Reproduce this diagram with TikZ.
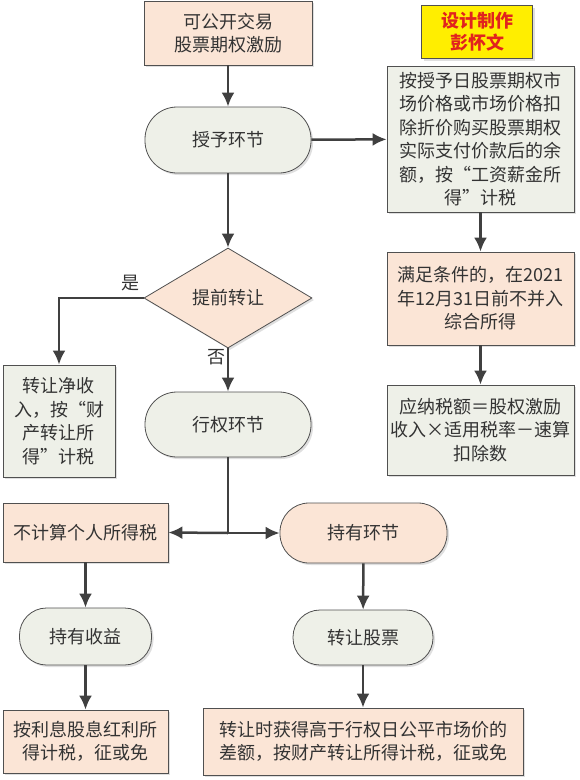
\documentclass[tikz,border=0pt]{standalone}
\usepackage{fontspec}
\setmainfont{Noto Sans CJK SC}
\usepackage{tikz}
\usetikzlibrary{arrows.meta,shapes.geometric,shadows}
\definecolor{peach}{RGB}{251,229,214}
\definecolor{sage}{RGB}{238,240,232}
\definecolor{edge}{RGB}{80,80,80}
\definecolor{flowline}{RGB}{64,64,64}
\definecolor{signred}{RGB}{225,35,30}
\definecolor{signfill}{RGB}{255,238,0}

\begin{document}
\begin{tikzpicture}[x=1pt,y=-1pt]
  \tikzstyle{box}=[rectangle, draw=edge, line width=0.8pt, align=center, text=black!80,
    font=\fontsize{18}{23.5}\selectfont, inner sep=2pt,
    drop shadow={shadow xshift=2pt, shadow yshift=-2pt, fill=black!25}]
  \tikzstyle{stage}=[box, rounded corners=27pt]
  \tikzstyle{flow}=[-{Latex[length=14pt,width=13pt]}, line width=2.5pt, color=flowline]
  \tikzstyle{tag}=[text=black!80, font=\fontsize{18}{20}\selectfont]
  \useasboundingbox (0,0) rectangle (579,780);

  % left and middle column
  \node[box, fill=peach, minimum width=168pt, minimum height=64pt] (start) at (228,33) {可公开交易\\股票期权激励};
  \node[stage, rounded corners=32pt, fill=sage, minimum width=166pt, minimum height=66pt] (grant) at (228,140) {授予环节};
  \node[diamond, draw=edge, line width=0.8pt, fill=peach, aspect=1.68, inner sep=0pt,
    minimum width=168pt, minimum height=100pt, text=black!80, font=\fontsize{18}{20}\selectfont,
    drop shadow={shadow xshift=2pt, shadow yshift=-2pt, fill=black!25}] (early) at (228,298) {提前转让};
  \node[box, fill=sage, minimum width=112pt, minimum height=112pt] (net) at (59,421) {转让净收\\入，按“财\\产转让所\\得”计税};
  \node[stage, rounded corners=32pt, fill=sage, minimum width=166pt, minimum height=65pt] (exercise) at (228,424.5) {行权环节};
  \coordinate (split) at (228,533);
  \node[box, fill=peach, minimum width=165pt, minimum height=59pt] (notax) at (85.5,532.5) {不计算个人所得税};
  \node[stage, rounded corners=29pt, fill=peach, minimum width=167pt, minimum height=60pt] (hold) at (363.5,533) {持有环节};
  \node[stage, fill=sage, minimum width=132pt, minimum height=57pt] (gain) at (85.5,636.5) {持有收益};
  \node[stage, fill=sage, minimum width=140pt, minimum height=55pt] (sell) at (363,637.5) {转让股票};
  \node[box, fill=peach, minimum width=165pt, minimum height=63pt] (interest) at (85.5,741.5) {按利息股息红利所\\得计税，征或免};
  \node[box, fill=peach, minimum width=320pt, minimum height=67pt] (final) at (363,741.5) {转让时获得高于行权日公平市场价的\\差额，按财产转让所得计税，征或免};

  % right column
  \node[box, fill=signfill, text=signred, font=\fontsize{18}{22}\selectfont\bfseries,
    minimum width=111pt, minimum height=53pt] (sign) at (477,32) {设计制作\\彭怀文};
  \node[box, fill=sage, minimum width=187pt, minimum height=146pt] (rule1) at (480.5,139)
    {按授予日股票期权市\\场价格或市场价格扣\\除折价购买股票期权\\实际支付价款后的余\\额，按“工资薪金所\\得”计税};
  \node[box, fill=peach, minimum width=187pt, minimum height=93pt] (rule2) at (480.5,298.5)
    {满足条件的，在2021\\年12月31日前不并入\\综合所得};
  \node[box, fill=sage, minimum width=187pt, minimum height=90pt] (rule3) at (480.5,430)
    {应纳税额＝股权激励\\收入×适用税率－速算\\扣除数};

  \draw[flow] (start) -- (grant);
  \draw[flow] (grant) -- (rule1);
  \draw[flow] (rule1) -- (rule2);
  \draw[flow] (rule2) -- (rule3);
  \draw[flow] (grant) -- (early);
  \draw[flow] (early.west) -| (net.north);
  \draw[flow] (early.south) -- (exercise.north);
  \node[tag] (yes) at (130,283) {是};
  \node[tag] (no) at (216,357) {否};
  \draw[line width=2.5pt, flowline] (exercise.south) -- (split);
  \draw[flow] (split) -- (notax.east);
  \draw[flow] (split) -- (hold.west);
  \draw[flow] (notax) -- (gain);
  \draw[flow] (gain) -- (interest);
  \draw[flow] (hold) -- (sell);
  \draw[flow] (sell) -- (final);
\end{tikzpicture}
\end{document}
